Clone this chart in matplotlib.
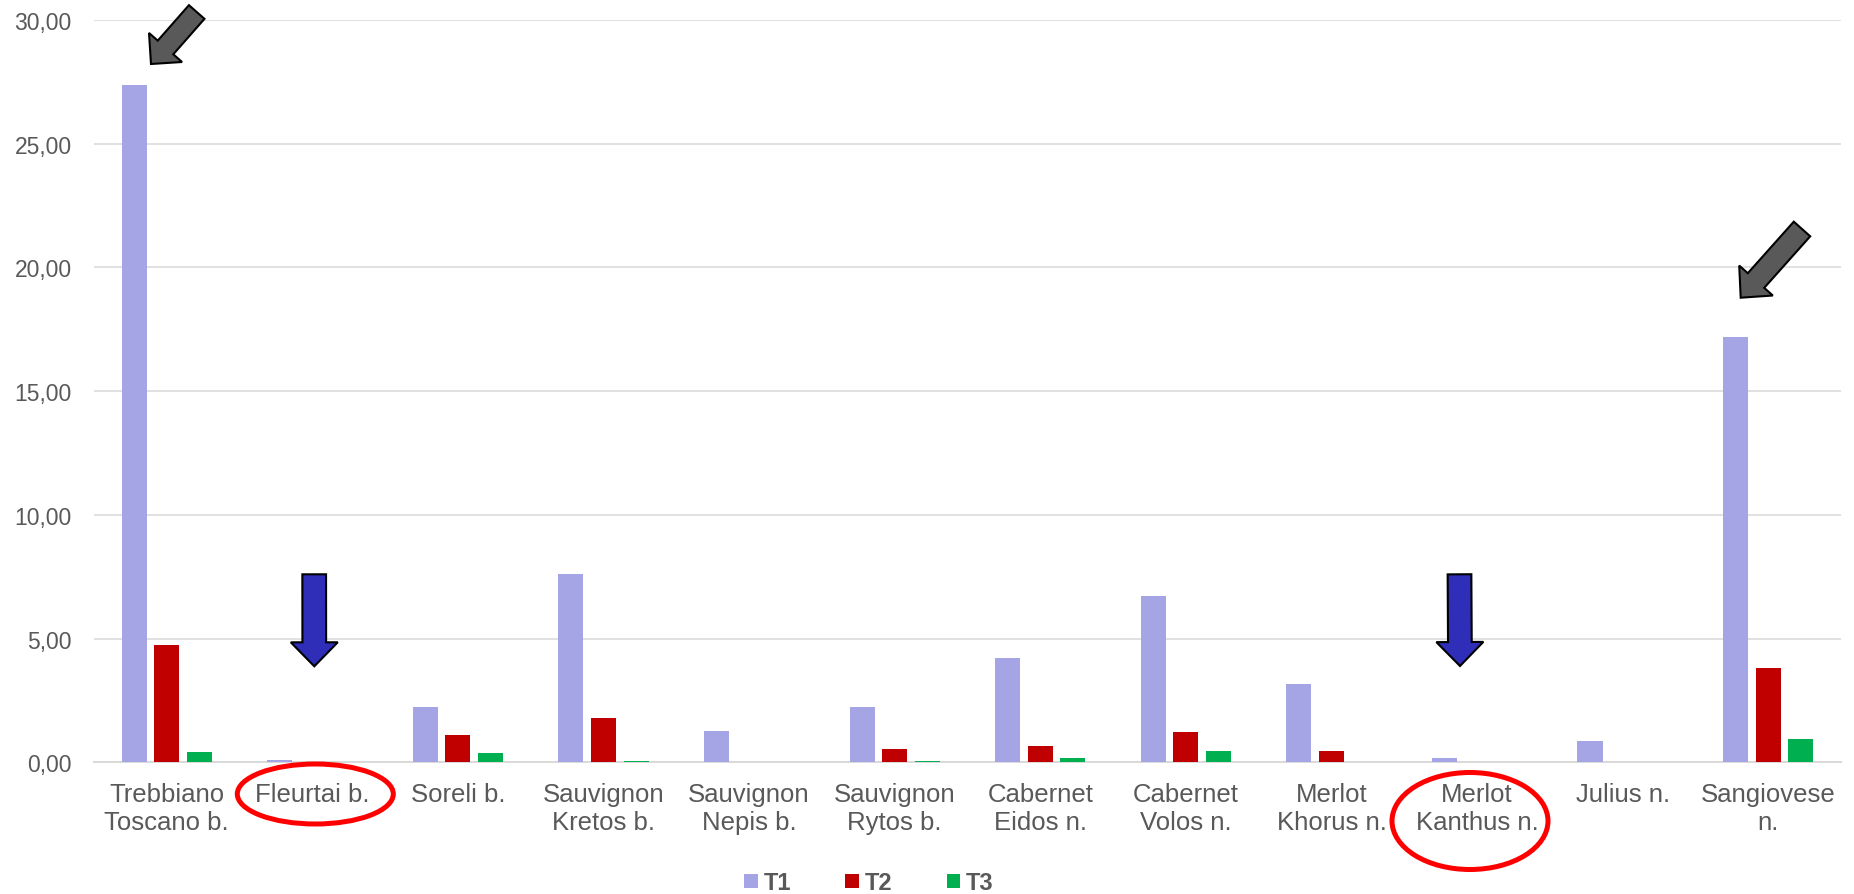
import matplotlib
matplotlib.use("Agg")
import matplotlib.pyplot as plt
import matplotlib.patches as mpatches
import numpy as np

# dati
categorie = ["Trebbiano\nToscano b.", "Fleurtai b.", "Soreli b.", "Sauvignon\nKretos b.",
             "Sauvignon\nNepis b.", "Sauvignon\nRytos b.", "Cabernet\nEidos n.",
             "Cabernet\nVolos n.", "Merlot\nKhorus n.", "Merlot\nKanthus n.",
             "Julius n.", "Sangiovese\nn."]
t1 = [27.36, 0.11, 2.22, 7.62, 1.27, 2.22, 4.22, 6.72, 3.15, 0.19, 0.86, 17.19]
t2 = [4.74, 0.0, 1.12, 1.78, 0.0, 0.55, 0.66, 1.21, 0.46, 0.0, 0.0, 3.82]
t3 = [0.40, 0.0, 0.38, 0.06, 0.0, 0.06, 0.19, 0.46, 0.0, 0.0, 0.0, 0.93]
serie = ["T1", "T2", "T3"]
colori = ["#A5A5E6", "#C00000", "#00B050"]
yticks = [0, 5, 10, 15, 20, 25, 30]

plt.rcParams['font.family'] = ['Liberation Sans', 'DejaVu Sans']

W, H = 1854, 895
fig = plt.figure(figsize=(W / 100, H / 100), dpi=100)
ax = fig.add_axes([94 / W, 1 - 763.3 / H, (1841 - 94) / W, (763.3 - 21) / H])

x = np.arange(len(categorie))
for k, (vals, col, nome) in enumerate(zip([t1, t2, t3], colori, serie)):
    ax.bar(x + (k - 1) * 0.224, vals, width=0.172, color=col, label=nome, zorder=3)

ax.set_xlim(-0.5, len(categorie) - 0.5)
ax.set_ylim(0, 30)
ax.set_yticks(yticks)
ax.set_yticklabels([("%.2f" % v).replace(".", ",") for v in yticks])
ax.set_xticks(x)
ax.set_xticklabels(categorie, linespacing=1.2)
ax.tick_params(axis='y', length=0, pad=16, labelsize=16.5, labelcolor="#595959")
ax.tick_params(axis='x', length=0, pad=14, labelsize=18.5, labelcolor="#595959")
ax.grid(axis='y', color="#D9D9D9", lw=1.1, zorder=0)
for s in ["top", "right", "left"]:
    ax.spines[s].set_visible(False)
ax.spines["bottom"].set_color("#D9D9D9")
ax.spines["bottom"].set_linewidth(1.4)

leg = fig.legend(loc='center', bbox_to_anchor=(869 / W, 1 - 884 / H), ncol=3,
                 frameon=False, handlelength=0.57, handleheight=0.57,
                 handletextpad=0.25, columnspacing=2.3,
                 prop={'size': 17, 'weight': 'bold'})
for t in leg.get_texts():
    t.set_color("#595959")

# annotazioni (coordinate in pixel)
ov = fig.add_axes([0, 0, 1, 1], zorder=10)
ov.set_xlim(0, W)
ov.set_ylim(H, 0)
ov.axis('off')
ov.patch.set_alpha(0)

def freccia(coda, punta, larg, larg_testa, lung_testa, col):
    dx, dy = punta[0] - coda[0], punta[1] - coda[1]
    ov.add_patch(mpatches.FancyArrow(coda[0], coda[1], dx, dy, width=larg,
                                     head_width=larg_testa, head_length=lung_testa,
                                     length_includes_head=True, fc=col, ec="black", lw=1.5))

freccia((196.7, 13), (151, 65), 20.7, 44, 22, "#595959")
freccia((1802, 230), (1740.7, 298.7), 22, 45, 23, "#595959")
freccia((314.2, 575.3), (314.3, 667.3), 23.7, 47, 24, "#2E2EB8")
freccia((1459.5, 575.3), (1460, 667), 23.7, 47, 24, "#2E2EB8")

ov.add_patch(mpatches.Ellipse((315.3, 795), 156, 60, fill=False, ec="#FF0000", lw=3.6))
ov.add_patch(mpatches.Ellipse((1470, 822), 156, 97, fill=False, ec="#FF0000", lw=3.6))

fig.savefig("out.png", dpi=100)
